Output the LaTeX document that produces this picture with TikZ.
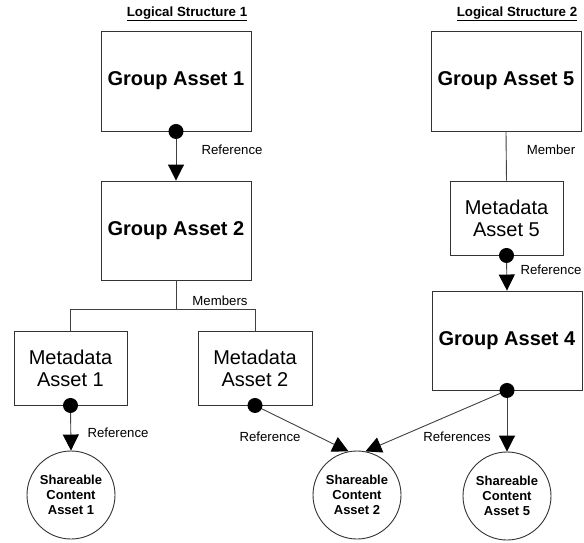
\documentclass[tikz,border=0pt]{standalone}
\usepackage{fontspec}
\setmainfont{Liberation Sans}
\usetikzlibrary{arrows.meta}
\begin{document}
\begin{tikzpicture}[x=1pt,y=-1pt,
  groupbox/.style={draw=black!80,line width=0.9pt,minimum width=150pt,minimum height=100pt,inner sep=0pt,
    font=\fontsize{20}{24}\selectfont\bfseries},
  metabox/.style={draw=black!80,line width=0.9pt,minimum width=113pt,minimum height=74pt,inner sep=0pt,align=center,
    font=\fontsize{20}{22}\selectfont},
  content/.style={draw=black!80,line width=0.9pt,circle,minimum size=88pt,inner sep=0pt,align=center,
    font=\fontsize{13}{15}\selectfont\bfseries},
  title/.style={font=\fontsize{13.3}{16}\selectfont\bfseries,inner sep=0pt},
  lbl/.style={font=\fontsize{13.2}{16}\selectfont,inner sep=0pt},
  conn/.style={draw=black!75,line width=0.9pt},
  refarrow/.style={conn,-{Triangle[length=16pt,width=16pt,color=black,fill=black]}},
  dot/.style={fill=black}
]
\useasboundingbox (0,0) rectangle (584,542);
\fill[white] (0,0) rectangle (584,542);

% titles
\node[title] (t1) at (187,14) {\underline{Logical Structure 1}};
\node[title] (t2) at (517,14) {\underline{Logical Structure 2}};

% boxes
\node[groupbox] (ga1) at (176,81) {Group Asset 1};
\node[groupbox,minimum height=99pt] (ga2) at (176,230.5) {Group Asset 2};
\node[groupbox] (ga5) at (506,81) {Group Asset 5};
\node[metabox] (ma5) at (506.5,218) {Metadata\\Asset 5};
\node[groupbox,minimum height=99pt] (ga4) at (507,340.5) {Group Asset 4};
\node[metabox] (ma1) at (70.5,368) {Metadata\\Asset 1};
\node[metabox,minimum width=114pt] (ma2) at (255,368) {Metadata\\Asset 2};

% content circles
\node[content] (sca1) at (71,495) {Shareable\\Content\\Asset 1};
\node[content] (sca2) at (357,495) {Shareable\\Content\\Asset 2};
\node[content] (sca5) at (507,496) {Shareable\\Content\\Asset 5};

% connectors
\draw[refarrow] (ga1.south) -- (ga2.north);
\fill[dot] (ga1.south) circle (7.5pt);
\node[lbl] (l1) at (232,150) {Reference};

\coordinate (j) at ([yshift=-29pt]ga2.south);
\draw[conn] (ga2.south) -- (j);
\draw[conn] (ma1.north) |- (j) -| (ma2.north);
\node[lbl] (l2) at (220,301) {Members};

\draw[conn] (ga5.south) -- (ma5.north);
\node[lbl] (l3) at (551,150) {Member};

\draw[refarrow] (ma5.south) -- (ga4.north);
\fill[dot] (ma5.south) circle (7.5pt);
\node[lbl] (l4) at (551,270) {Reference};

\draw[refarrow] (ma1.south) -- (sca1.north);
\fill[dot] (ma1.south) circle (7.5pt);
\node[lbl] (l5) at (118,433) {Reference};

\draw[refarrow] (ma2.south) -- (sca2.101);
\fill[dot] (ma2.south) circle (7.5pt);
\node[lbl] (l6) at (270,437) {Reference};

\draw[refarrow] (ga4.south) -- (sca2.79);
\draw[refarrow] (ga4.south) -- (sca5.north);
\fill[dot] (ga4.south) circle (7.5pt);
\node[lbl] (l7) at (457,437) {References};
\end{tikzpicture}
\end{document}
